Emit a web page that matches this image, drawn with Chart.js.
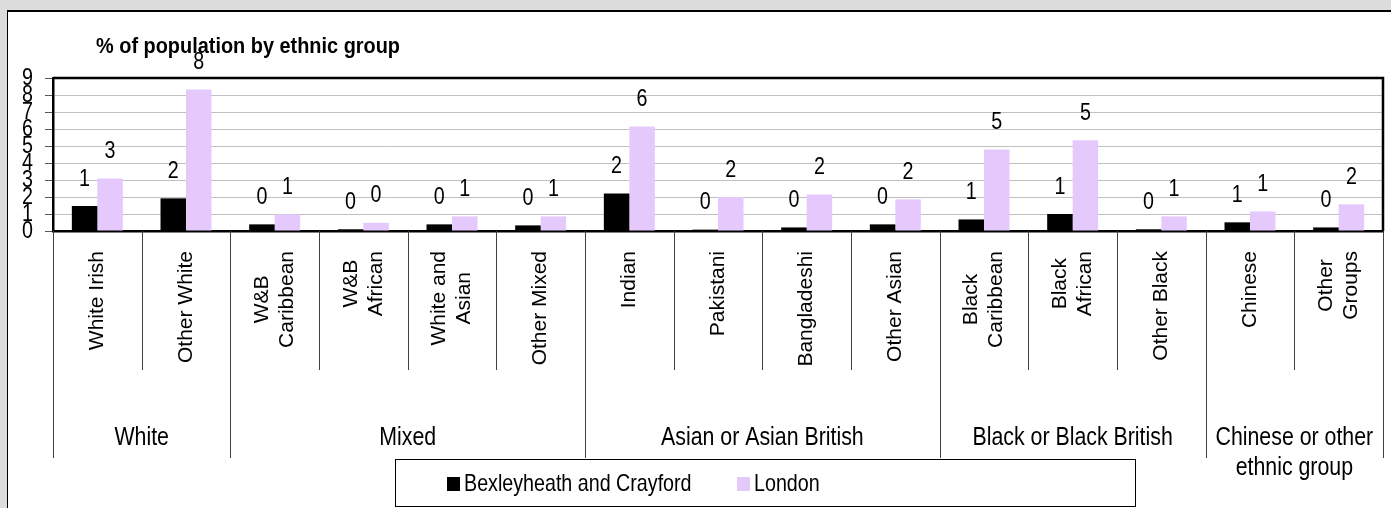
<!DOCTYPE html>
<html>
<head>
<meta charset="utf-8">
<script src="https://cdn.jsdelivr.net/npm/chart.js@4.4.1/dist/chart.umd.min.js"></script>
<style>
  html, body { margin: 0; padding: 0; background: #dcdcdc; overflow: hidden; }
  #ethnicChart { position: absolute; left: 0; top: 0; }
</style>
</head>
<body>
<canvas id="ethnicChart" width="1391" height="508"></canvas>
<script>
// CHART DATA
const chartTitle = '% of population by ethnic group';
const categories = [
    'White Irish', 'Other White',
    ['W&B', 'Caribbean'], ['W&B', 'African'], ['White and', 'Asian'], 'Other Mixed',
    'Indian', 'Pakistani', 'Bangladeshi', 'Other Asian',
    ['Black', 'Caribbean'], ['Black', 'African'], 'Other Black',
    'Chinese', ['Other', 'Groups']
];
const groupNames = [['White'], ['Mixed'], ['Asian or Asian British'], ['Black or Black British'], ['Chinese or other', 'ethnic group']];
const groupSizes = [2, 4, 4, 3, 2];
const seriesNames = ['Bexleyheath and Crayford', 'London'];
const bexleyValues = [1.47, 1.92, 0.39, 0.10, 0.39, 0.33, 2.21, 0.08, 0.21, 0.39, 0.68, 1.00, 0.10, 0.51, 0.21];
const londonValues = [3.09, 8.32, 0.98, 0.48, 0.86, 0.86, 6.14, 2.00, 2.15, 1.86, 4.79, 5.34, 0.86, 1.15, 1.57];
const yMin = 0, yMax = 9, yStep = 1;

const REGULAR = "'Liberation Sans', Arial, sans-serif";
const NARROW_SCALE = 0.82;

// no narrow font installed, so squeeze Liberation Sans sideways
function narrowText(c, text, x, y, size, align, bold, squeeze) {
    c.save();
    c.font = (bold ? 'bold ' : '') + size + 'px ' + REGULAR;
    c.textAlign = align;
    c.textBaseline = 'middle';
    c.translate(x, y);
    c.scale(squeeze || NARROW_SCALE, 1);
    c.fillText(text, 0, 0);
    c.restore();
}

// BACKGROUND PANEL, TITLE AND PLOT BORDER
const framePlugin = {
    id: 'frame',
    beforeDraw(chart) {
        const c = chart.ctx;
        c.save();
        c.fillStyle = '#dcdcdc';
        c.fillRect(0, 0, chart.width, chart.height);
        c.fillStyle = '#ffffff';
        c.fillRect(8, 11, chart.width, chart.height);
        c.strokeStyle = '#000';
        c.lineWidth = 1;
        c.beginPath(); c.moveTo(7.5, chart.height); c.lineTo(7.5, 10); c.stroke();
        c.lineWidth = 2;
        c.beginPath(); c.moveTo(7, 11); c.lineTo(chart.width, 11); c.stroke();

        c.fillStyle = '#000';
        c.font = 'bold 22px ' + REGULAR;
        const w = c.measureText(chartTitle).width;
        narrowText(c, chartTitle, 96, 47, 22, 'left', true, 304 / w);
        c.restore();
    },
    afterDraw(chart) {
        const a = chart.chartArea;
        const c = chart.ctx;
        c.save();
        c.strokeStyle = '#000';
        c.lineWidth = 2.5;
        c.beginPath();
        c.moveTo(a.left, a.top); c.lineTo(a.right, a.top); c.lineTo(a.right, a.bottom);
        c.stroke();

        // y tick labels
        const y = chart.scales.y;
        c.fillStyle = '#000';
        y.ticks.forEach(t => {
            narrowText(c, String(t.value), 33, y.getPixelForValue(t.value), 24, 'right');
        });
        c.restore();
    }
};

// VALUE LABELS ABOVE BARS
const valueLabels = {
    id: 'valueLabels',
    afterDatasetsDraw(chart) {
        const c = chart.ctx;
        c.save();
        c.fillStyle = '#000';
        chart.data.datasets.forEach((ds, i) => {
            chart.getDatasetMeta(i).data.forEach((bar, j) => {
                narrowText(c, String(Math.round(ds.data[j])), bar.x, bar.y - 27, 24, 'center');
            });
        });
        c.restore();
    }
};

// TWO LEVEL CATEGORY AXIS AND LEGEND BOX
const categoryAxis = {
    id: 'categoryAxis',
    afterDraw(chart) {
        const x = chart.scales.x;
        const a = chart.chartArea;
        const c = chart.ctx;
        const n = chart.data.labels.length;
        const bounds = [a.left];
        for (let i = 0; i < n - 1; i++) {
            bounds.push((x.getPixelForValue(i) + x.getPixelForValue(i + 1)) / 2);
        }
        bounds.push(a.right);

        const groupEdges = [0];
        groupSizes.forEach(s => groupEdges.push(groupEdges[groupEdges.length - 1] + s));

        c.save();
        c.strokeStyle = '#404040';
        c.lineWidth = 1;
        bounds.forEach((bx, i) => {
            const isGroup = groupEdges.includes(i);
            const px = Math.round(bx) + 0.5;
            c.beginPath();
            c.moveTo(px, a.bottom);
            c.lineTo(px, isGroup ? 458 : 370);
            c.stroke();
        });

        // rotated category names
        c.fillStyle = '#000';
        c.font = '21px ' + REGULAR;
        c.textAlign = 'center';
        c.textBaseline = 'middle';
        chart.data.labels.forEach((lab, i) => {
            const lines = Array.isArray(lab) ? lab : [lab];
            const w = Math.max(...lines.map(l => c.measureText(l).width));
            const cx = x.getPixelForValue(i);
            const cy = 251 + w / 2;
            c.save();
            c.translate(cx, cy);
            c.rotate(-Math.PI / 2);
            lines.forEach((l, k) => {
                c.fillText(l, 0, (k - (lines.length - 1) / 2) * 25);
            });
            c.restore();
        });

        // group names
        groupNames.forEach((g, i) => {
            const gx = (bounds[groupEdges[i]] + bounds[groupEdges[i + 1]]) / 2;
            g.forEach((l, k) => narrowText(c, l, gx, 438 + k * 30, 26, 'center'));
        });

        // legend box
        c.strokeStyle = '#000';
        c.strokeRect(395.5, 459.5, 740, 47);
        const legendX = [447, 737];
        chart.data.datasets.forEach((ds, i) => {
            c.fillStyle = ds.backgroundColor;
            c.fillRect(legendX[i], 477, 13, 14);
            c.fillStyle = '#000';
            narrowText(c, ds.label, legendX[i] + 17, 484, 24, 'left');
        });
        c.restore();
    }
};

window.onload = () => {
    const ctx = document.getElementById('ethnicChart');
    new Chart(ctx, {
        type: 'bar',
        data: {
            labels: categories,
            datasets: [{
                label: seriesNames[0],
                data: bexleyValues,
                backgroundColor: '#000000',
                categoryPercentage: 0.575,
                barPercentage: 1
            }, {
                label: seriesNames[1],
                data: londonValues,
                backgroundColor: '#e5c9fd',
                categoryPercentage: 0.575,
                barPercentage: 1
            }]
        },
        options: {
            responsive: false,
            animation: false,
            layout: { padding: { left: 0, top: 78, right: 8, bottom: 277 } },
            plugins: {
                legend: { display: false },
                title: { display: false },
                tooltip: { enabled: false }
            },
            scales: {
                x: {
                    grid: { display: false, drawTicks: false },
                    border: { display: true, color: '#000', width: 2.5 },
                    ticks: { display: false },
                    afterFit: (scale) => { scale.height = 0; }
                },
                y: {
                    min: yMin,
                    max: yMax,
                    grid: { color: '#c0c0c0', tickColor: '#555', tickLength: 8 },
                    border: { display: true, color: '#000', width: 2.5 },
                    ticks: { stepSize: yStep, autoSkip: false, display: false },
                    afterFit: (scale) => { scale.width = 53; }
                }
            }
        },
        plugins: [framePlugin, valueLabels, categoryAxis]
    });
};
</script>
</body>
</html>
